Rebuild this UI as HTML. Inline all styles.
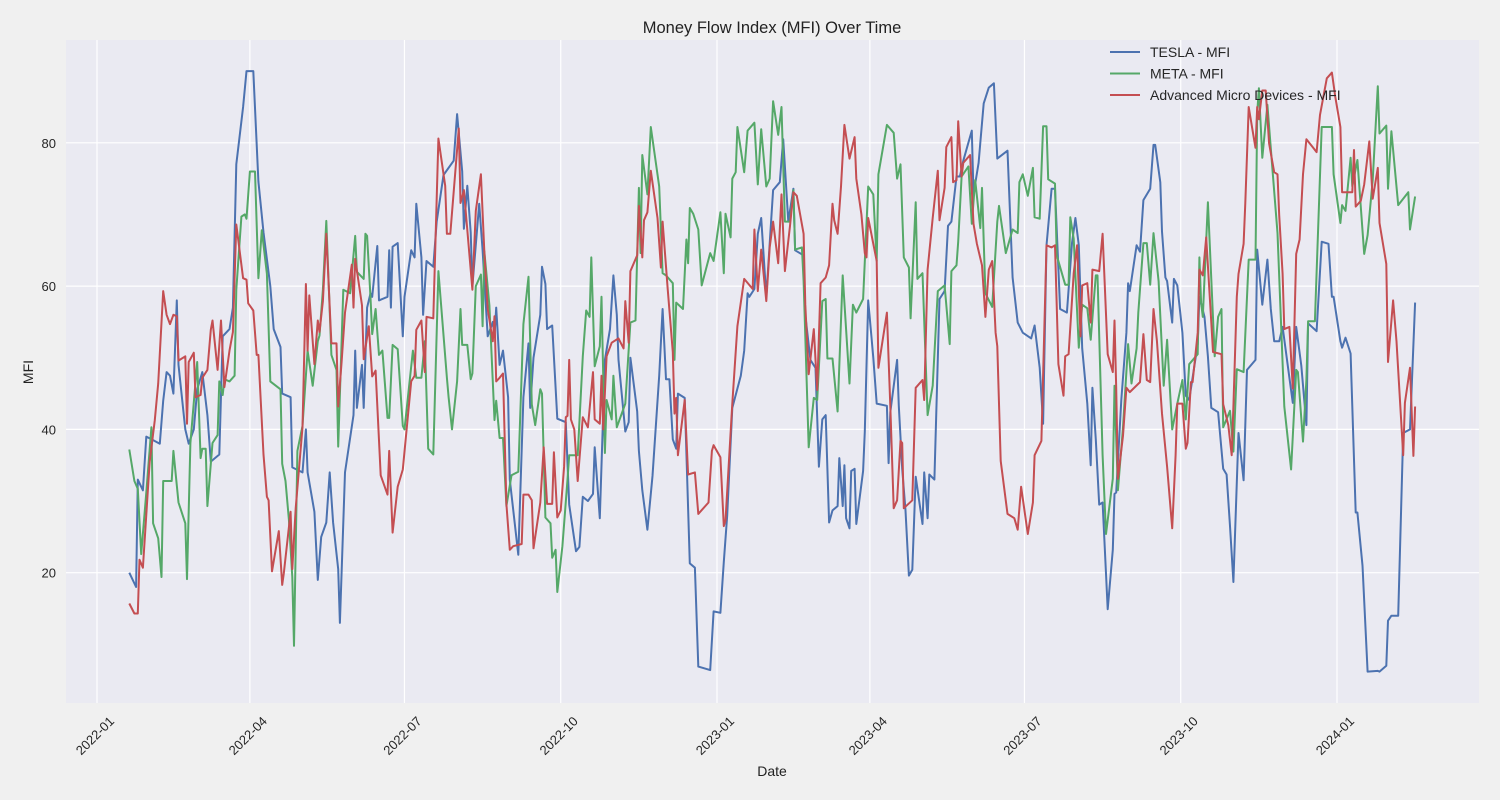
<!DOCTYPE html>
<html><head><meta charset="utf-8"><style>
body{margin:0;background:#f0f0f0;}
svg{display:block;font-family:"Liberation Sans",sans-serif;}
</style></head><body>
<svg id="chart" width="1500" height="800" viewBox="0 0 1500 800" xmlns="http://www.w3.org/2000/svg">
<rect x="0" y="0" width="1500" height="800" fill="#f0f0f0"/>
<rect x="66" y="40" width="1413" height="663" fill="#eaeaf2"/>
<g id="grid"></g>
<g id="series"></g>
<g id="ticks"></g>
<text x="772" y="33" font-size="16.5" text-anchor="middle" fill="#222">Money Flow Index (MFI) Over Time</text>
<text x="772" y="776" font-size="14" text-anchor="middle" fill="#222">Date</text>
<text x="33" y="372" font-size="14" text-anchor="middle" fill="#222" transform="rotate(-90 33 372)">MFI</text>
<g id="legend"></g>
</svg>
<script>
const tickDates = [0, 90, 181, 273, 365, 455, 546, 638, 730];
const tickLabels = ["2022-01","2022-04","2022-07","2022-10","2023-01","2023-04","2023-07","2023-10","2024-01"];
const yTicks = [20, 40, 60, 80];
const seriesNames = ["TESLA - MFI","META - MFI","Advanced Micro Devices - MFI"];

const teslaDays = [19,23,24,27,29,33,37,39,41,43,45,47,48,52,54,57,59,62,65,67,72,74,78,80,82,86,88,92,95,98,102,104,108,109,114,115,121,123,124,128,130,132,135,137,139,142,143,146,151,152,153,156,157,159,161,162,165,166,171,172,173,174,177,180,181,185,187,188,191,192,194,198,200,204,210,212,215,216,218,220,221,225,227,230,233,234,235,237,239,242,243,248,251,254,255,257,261,262,264,265,268,271,276,278,282,284,286,289,292,293,296,299,302,304,306,307,311,313,314,318,319,321,324,327,331,333,335,337,339,341,342,346,349,352,354,361,363,367,369,371,374,379,381,383,384,387,389,391,394,398,402,404,407,410,411,416,417,420,423,425,427,429,431,433,436,437,439,440,441,443,444,446,447,451,452,454,457,459,465,466,467,471,472,474,476,478,480,482,486,487,489,490,493,496,499,501,503,506,508,510,515,516,519,520,522,525,528,530,536,539,542,545,550,552,555,557,559,562,564,567,571,574,576,578,580,583,585,586,588,590,592,595,598,599,600,603,606,607,608,612,614,616,620,622,623,626,627,629,630,633,634,636,639,641,643,648,649,652,654,656,660,663,665,667,669,672,675,677,682,683,686,689,691,693,696,698,702,704,706,709,712,713,718,721,725,727,728,732,733,735,738,741,742,745,748,754,755,759,760,762,766,769,773,776];
const teslaMFI = [20,18,33,31.5,39,38.5,38,44,48,47.5,45,58,49,40,38,40,45.6,48,42,35.5,36.5,53,54,57,77,85,90,90,74.6,67.5,60,54,51.5,45,44.5,34.7,34,40,34,28.5,19,25,27,34,27,20.5,13,34,42,51,43,49,43,57,59,58.5,65.6,58,58.5,65,57,65.5,66,53,58.5,65,64,71.5,64,56,63.5,62.7,69,75.5,77.5,84,76,68,74,67.5,60,71.5,65,53,55,53,57,49,51,44.5,33,22.5,44.5,52,43,50,56,62.7,60.3,54,54.5,41.5,41,29.5,23,23.6,30.6,30,31,37.5,27.6,49.7,54,61.5,56,49.7,39.7,41,50,42.5,37,31.5,26,33.5,47.5,56.8,47,47,38.6,37.3,45,44.4,21.3,20.7,6.9,6.4,14.6,14.4,21.5,28,43,47.5,51,59,58.5,59.6,67.3,69.5,58.5,73.4,74.5,80.5,69,73.6,65,64.3,56,49.7,48.6,34.8,41.4,42,27,28.7,29.3,36,29.3,35,27.6,26.2,34.2,34.5,26.8,34.2,39.7,58,50,43.6,43.3,35.3,42.4,49.7,43.3,34.5,28.7,19.6,20.4,33.4,26.8,34,27.6,33.7,33,58.2,59.3,68.4,69,75.3,75.3,77.5,81.7,72.8,77.2,80,85.5,87.7,88.3,77.8,78.9,61.2,54.9,53.5,52.7,54.5,48.6,40.8,65.7,73.6,73.6,56.8,56.3,66,69.5,65.7,51.3,43.6,35,45.8,38.6,29.5,29.8,14.9,23.2,31,31.2,44.1,53.5,60.4,59.3,65.7,64.8,72,73.6,79.7,79.7,74.5,67.6,61.2,60.7,54.9,61,60.1,53.5,44.7,44.1,51.9,58.5,55.7,50.2,43,42.4,34.5,33.7,26.5,18.7,39.5,32.9,48.3,49.7,65.1,57.4,63.7,56.8,52.3,52.3,54.3,47.2,43.7,54.3,48.9,40.6,54.8,53.7,66.2,65.9,58.5,58.5,52.3,51.4,52.8,50.6,28.4,28.4,21,6.2,6.3,6.2,7,13.3,14,14,39.5,40,57.7];

const metaDays = [19,22,24,26,29,32,33,36,38,39,44,45,48,52,53,55,59,61,62,64,65,68,71,72,74,75,78,81,82,85,87,88,90,93,95,97,100,102,108,109,111,113,115,116,118,121,124,127,130,131,133,135,138,141,142,145,149,152,153,157,158,159,161,162,164,166,168,171,172,174,177,180,181,186,188,191,193,195,198,201,206,207,209,212,214,215,218,220,221,223,226,227,228,231,234,235,237,239,241,244,248,251,254,256,258,261,262,264,267,268,270,271,274,277,278,283,286,288,290,291,293,296,297,299,300,303,304,306,311,314,317,319,320,321,324,326,331,333,335,339,340,341,345,347,348,349,351,354,356,361,363,367,369,370,373,374,376,377,381,383,387,389,391,394,396,398,401,403,405,408,410,411,415,416,419,422,424,427,429,430,433,436,439,443,445,447,451,454,457,459,460,465,469,471,473,475,478,479,482,483,486,489,492,495,499,502,503,506,507,509,513,515,517,520,521,523,527,530,531,535,539,542,543,545,548,551,552,555,557,559,560,564,565,570,572,573,575,578,580,583,585,588,589,592,594,598,599,601,604,607,609,612,613,616,618,620,622,625,628,630,633,636,639,641,643,648,649,650,651,654,658,660,662,663,667,669,671,675,678,682,683,684,686,689,692,695,699,703,706,707,710,712,713,717,721,727,728,732,733,735,738,739,742,746,748,751,754,755,759,760,762,766,772,773,776];
const metaMFI = [37.2,32.8,31.7,22.6,31.2,40.3,26.9,24.8,19.4,32.8,32.8,37,29.8,26.9,19.1,38.1,49.4,36,37.3,37.3,29.3,38.1,39.2,46.7,44.8,47,46.7,47.5,59.5,69.7,70,69.4,76,76,61.1,67.8,61.7,46.7,45.6,35.2,32.8,27.4,19.4,9.8,37,40.5,51,46.1,52.3,53.1,59.5,69.1,50.4,48.3,37.6,59.5,59,67,62,61,67.3,67,58.4,53.3,56.8,50.4,51,41.6,41.6,51.8,51.2,40.5,40,51,47.2,47.2,52.3,37.3,36.5,62.1,47.2,44.5,40,46.7,56.8,51.8,51.8,47,47.8,60,61.6,54.4,64.9,57.3,41.3,44,38.8,38.8,29.3,33.6,34.1,54.7,61.3,43.5,40.6,45.6,45,27.7,26.9,22.1,23.2,17.3,23.7,33,36.4,36.4,50.2,56.6,55.7,64,48.8,51.6,58.5,36.7,44.1,41.4,47.5,40.3,43.6,54.9,55.2,73.7,64.6,78.3,72.8,82.2,73.9,61.8,61.5,60.4,49.7,57.7,56.8,66.5,63.2,70.9,70.1,67.9,60.1,64.6,63.5,70.3,61.8,70.1,66.8,75,75.9,82.2,75.9,81.7,82.8,74.2,81.9,73.9,75,85.8,81.1,85,69,69,73.4,65.1,65.4,60.7,37.5,44.4,44.1,57.9,58.2,49.9,49.9,42.5,61.5,46.4,57.4,56.3,58.2,73.9,72.8,63.5,75.6,82.5,81.4,75,77,64,62.6,55.5,71.7,61,61.8,42,46.1,59.3,60.1,51.9,62.1,62.9,66.2,75.3,76.7,68.7,74.8,68.1,73.7,59,57.1,69,71.2,64.6,67.9,67.4,74.5,75.6,72.6,76.5,69.6,69.4,82.3,82.3,74.9,74.3,64.3,60.2,60.2,69.6,66.6,51.4,57.4,56.9,52.5,61.5,61.5,36.4,25.4,33.1,46.1,31.5,40.3,51.9,46.4,51.3,56.3,66,66,60.2,67.4,60.7,46.1,52.5,40,43.6,46.9,41.4,49.1,50.5,64,57.7,55.7,71.7,50.2,55.7,56.8,40.3,42.6,36.9,48.4,48,63.7,63.7,84.2,87.6,77.9,85.3,76.2,67.4,43.2,34.4,48.3,48,38.3,46.9,55.1,55.1,82.2,82.2,75.6,68.8,71.3,70.5,77.9,73.9,77.6,64.5,67.1,74.8,87.9,81.3,82.4,73.6,81.6,71.3,73.1,67.9,72.5];

const amdDays = [19,22,24,25,27,31,34,36,39,41,43,45,47,48,52,53,54,57,58,61,62,65,67,68,71,73,75,78,80,82,86,88,89,92,94,95,98,100,101,103,107,109,110,114,115,117,121,123,124,125,128,130,131,133,135,138,141,142,144,146,150,151,152,156,157,160,162,164,167,171,172,174,177,178,180,185,187,188,191,193,194,198,201,205,206,208,213,214,216,221,223,226,228,230,233,234,235,237,239,241,243,245,250,251,254,256,257,261,263,265,268,269,271,273,275,276,277,278,279,281,283,286,289,292,293,296,297,298,300,303,307,310,311,313,314,318,319,321,322,324,326,330,332,333,336,339,340,341,342,346,348,352,354,360,362,363,367,369,370,374,377,381,386,387,389,391,394,396,398,401,403,405,408,410,412,416,417,419,422,424,426,429,431,433,434,436,438,440,443,446,447,450,452,453,454,459,460,465,467,469,471,473,474,475,480,482,486,487,489,492,495,496,499,500,503,504,506,507,509,510,514,516,518,521,523,525,527,529,530,532,536,540,542,544,548,551,552,556,559,562,564,566,569,570,572,575,577,579,580,583,585,586,590,592,595,598,599,600,601,604,606,608,614,616,618,620,622,624,627,630,633,635,636,639,641,642,644,645,648,649,651,653,656,657,662,663,666,668,669,671,672,675,676,678,681,682,683,684,686,688,690,693,695,696,698,699,702,704,706,708,710,712,716,718,720,724,727,729,732,733,739,740,741,744,746,749,751,754,755,759,760,763,765,769,770,773,775,776];
const amdMFI = [15.7,14.3,14.3,21.8,20.7,35.5,41.3,46.4,59.3,56,54.7,56,55.8,49.6,50.2,40.8,49.4,50.7,44.5,44.8,47.2,48.3,53.9,55.2,48.3,55.2,45.9,51,53.6,68.6,61.1,60.9,57.6,56.6,50.4,50.4,36.5,30.6,30.1,20.2,25.8,18.3,19.9,28.5,20.5,29,40.3,60.3,51,58.7,49.1,55.2,53.6,57.9,67.3,52,52,43.2,49.4,56.3,63,57,63.8,57.3,49.8,54.4,47.4,48.2,33.6,30.9,37,25.6,32,32.8,34.4,46.7,47.5,53.9,55.2,48,55.7,55.5,80.6,74,67.3,67.3,82,71.6,73.4,59.5,70.5,75.6,64.9,56.8,52.3,55.8,46.7,47.2,47.8,29.6,23.2,23.7,24,30.9,30.9,30.1,23.4,29.8,37.5,29.6,29.6,36.8,27.7,28.7,34.8,41.7,41.9,49.7,41.4,40,32.8,41.7,40.3,48,41.4,40.8,47.5,40,50.2,52.1,52.7,51.3,57.9,52.1,62.1,64.3,71.2,64,69.2,70.3,76.1,69.5,62.6,69,59.6,50.8,42.2,44.4,36.4,44.1,33.7,34,28.2,29.8,37,37.8,36.1,26.5,27.3,43.6,54.4,61,59.6,67.9,59.3,65.1,57.9,65.4,69,63.2,72.8,62.1,68.4,73.1,72.6,67.3,57.4,47.7,54,45.5,60.4,61.2,62.9,71.5,69.2,67.3,73.9,82.5,77.8,80.8,75,70,64.6,64,69.5,63.5,48.6,56.3,43.3,29,30.1,38.4,38.1,29,30.1,45.8,46.9,44.1,62.3,69.5,76.1,69.2,73.7,79.4,80.8,74.5,74.8,83,75.3,77.2,78.3,68.7,65.9,62.9,55.7,62.3,63.5,53.5,51.6,35.6,28.2,27.6,26,32,25.4,29.8,36.4,38.4,65.7,65.4,65.7,49.1,44.7,50.2,50.5,61.8,65.7,53,60.1,60.4,54.9,62.3,62.1,67.3,50.5,48,55.2,45.8,33.1,39.1,45.8,45.2,46.6,53.3,46.9,46.6,56.8,52.4,42.2,34.8,26.2,36.4,43.6,43.6,37.3,38.1,46.6,46.6,53.5,62.3,61.5,66.8,54.9,50.8,50.5,43.5,40.6,36.4,43.2,58.5,61.7,65.9,71.6,85,80.7,79.3,85,83.3,87.3,87.3,79.9,75.9,75.6,69.9,61.7,54,54.3,45.7,64.5,66.5,75.6,80.5,79.3,78.7,83.9,89,89.8,86.4,82.2,73.1,73.1,79,71.1,71.9,74.2,80.2,72.2,76.5,68.8,63.1,49.4,58,52.3,36.4,43.7,48.6,36.3,43.2];

const NS = "http://www.w3.org/2000/svg";
const plot = {left:66, right:1479, top:40, bottom:703};
const dayOrigin = 97, pxPerDay = 1240/730;
function xScale(d){ return dayOrigin + d*pxPerDay; }
function yScale(v){ return 716 - v*(143.3/20); }
function mk(tag, attrs, parent){ const e=document.createElementNS(NS,tag); for(const k in attrs) e.setAttribute(k,attrs[k]); parent.appendChild(e); return e; }

const grid = document.getElementById('grid');
const ticks = document.getElementById('ticks');
tickDates.forEach((d,i)=>{
  const x = xScale(d);
  const gl = mk('line',{x1:x,x2:x,y1:plot.top,y2:plot.bottom,stroke:'#ffffff','stroke-width':1.2},grid);
  
  
  const t = mk('text',{x:x+18,y:722,'font-size':13,'text-anchor':'end',fill:'#262626',transform:`rotate(-45 ${x+18} 722)`},ticks);
  t.textContent = tickLabels[i];
  
  
});
yTicks.forEach(v=>{
  const y = yScale(v);
  const gl = mk('line',{x1:plot.left,x2:plot.right,y1:y,y2:y,stroke:'#ffffff','stroke-width':1.2},grid);
  
  
  const t = mk('text',{x:56,y:y+5,'font-size':13,'text-anchor':'end',fill:'#262626'},ticks);
  t.textContent = String(v);
  
  
});

const seriesG = document.getElementById('series');
const allSeries = [[teslaDays,teslaMFI,'#4c72b0','tesla-line'],[metaDays,metaMFI,'#55a868','meta-line'],[amdDays,amdMFI,'#c44e52','amd-line']];
allSeries.forEach(s=>{
  const pts = s[0].map((d,i)=>xScale(d).toFixed(1)+','+yScale(s[1][i]).toFixed(1)).join(' ');
  const pl = mk('polyline',{points:pts,fill:'none',stroke:s[2],'stroke-width':2,'stroke-linejoin':'round'},seriesG);
  
  
});

const legend = document.getElementById('legend');
seriesNames.forEach((n,i)=>{
  const y = 52 + i*21.5;
  const ln = mk('line',{x1:1110,x2:1140,y1:y,y2:y,stroke:allSeries[i][2],'stroke-width':2},legend);
  
  
  const t = mk('text',{x:1150,y:y+5,'font-size':14,fill:'#262626'},legend);
  t.textContent = n;
  
  
});
</script>
</body></html>
